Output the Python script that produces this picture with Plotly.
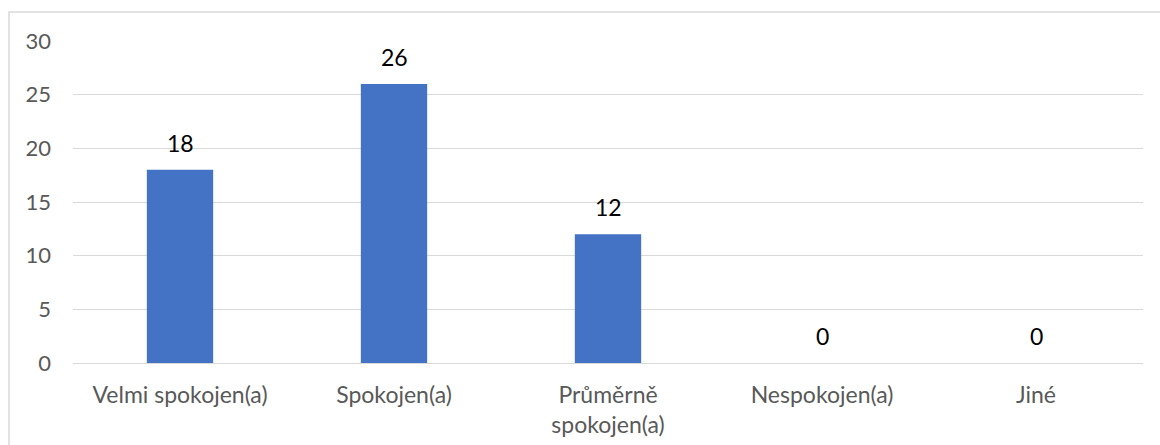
import plotly.graph_objects as go

categories = ["Velmi spokojen(a)", "Spokojen(a)", "Průměrně<br>spokojen(a)", "Nespokojen(a)", "Jiné"]
values = [18, 26, 12, 0, 0]
tick_vals = [0, 5, 10, 15, 20, 25, 30]

FONT = "Lato, Open Sans, sans-serif"

fig = go.Figure(go.Bar(
    x=categories, y=values,
    marker=dict(color="#4472C4", line=dict(width=0)),
))

for c, v in zip(categories, values):
    fig.add_annotation(x=c, y=v, text=str(v), showarrow=False, yanchor="bottom",
                       yshift=11, font=dict(family=FONT, size=23, color="#000000"))

fig.update_layout(
    width=1160, height=445,
    margin=dict(l=73, r=17, t=41, b=82),
    paper_bgcolor="white", plot_bgcolor="white",
    bargap=0.69, showlegend=False,
    font=dict(family=FONT, size=22, color="#595959"),
    xaxis=dict(showgrid=False, showline=False, ticks="", ticklabelstandoff=16,
               automargin=False, tickfont=dict(size=23, color="#595959")),
    yaxis=dict(range=[0, 30], tickvals=tick_vals, showgrid=True, gridcolor="#d9d9d9",
               gridwidth=1, zeroline=True, zerolinecolor="#d9d9d9", zerolinewidth=1,
               showline=False, ticks="", ticklabelstandoff=21, automargin=False,
               tickfont=dict(size=22, color="#595959")),
    shapes=[dict(type="rect", xref="paper", yref="paper",
                 x0=-64/1070, x1=1.02, y0=-0.3, y1=1 + 29/322,
                 line=dict(color="#d9d9d9", width=1.5), layer="below")],
)

fig.write_html("out.html")
